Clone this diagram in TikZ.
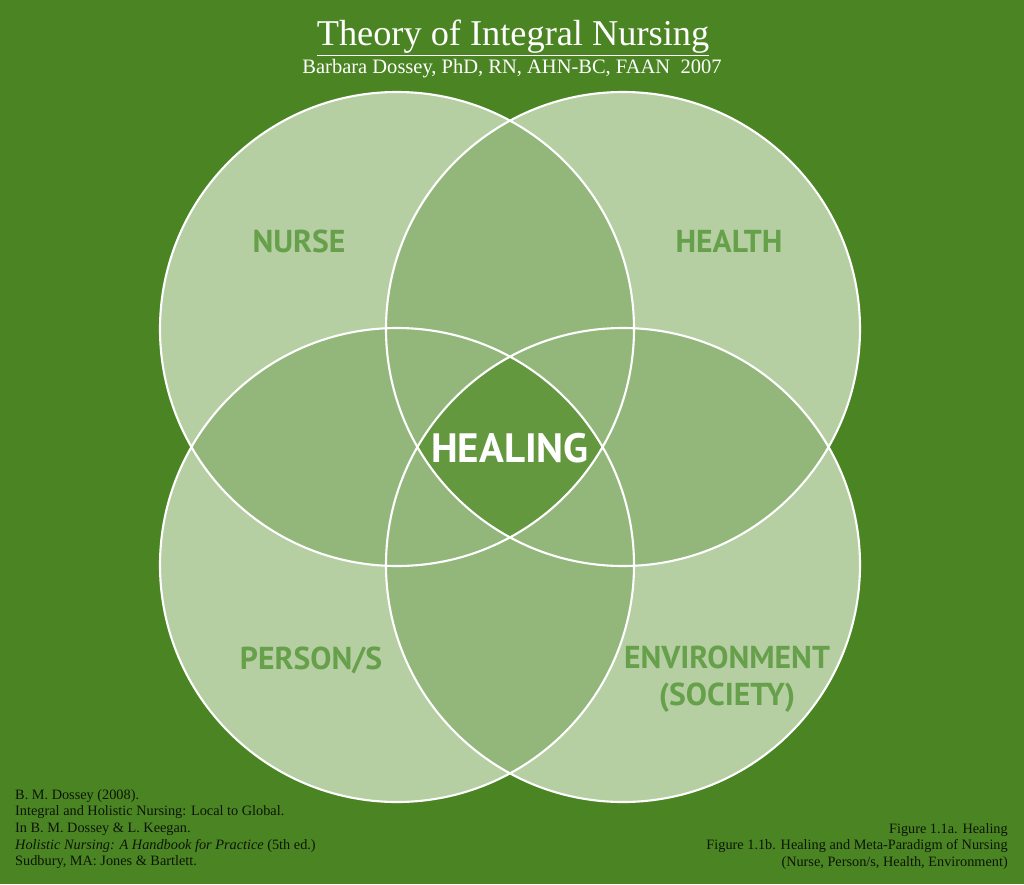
\documentclass[tikz,border=0pt]{standalone}
\usepackage{fontspec}
\setmainfont{Liberation Serif}
\newfontfamily\labelfont{PT Sans}
\usepackage{tikz}
\usepackage{xcolor}

\definecolor{bggreen}{HTML}{4B8523}
\definecolor{lightgreen}{HTML}{B5CEA2}
\definecolor{midgreen}{HTML}{93B77B}
\definecolor{darkgreen}{HTML}{64983F}
\definecolor{labelgreen}{HTML}{67A04A}
\definecolor{notedark}{RGB}{12,20,6}

\tikzset{
  setlabel/.style={text=labelgreen, font=\labelfont\bfseries\fontsize{27}{31.5}\selectfont, align=center},
  notebox/.style={text=notedark, font=\fontsize{12.2}{14.2}\selectfont, inner sep=0pt},
}

\begin{document}
\begin{tikzpicture}[x=0.03cm, y=-0.03cm]
                \fill[bggreen] (0,0) rectangle (1024,884);
                % circle centres
                \coordinate (nurse) at (397,329);
                \coordinate (health) at (623,329);
                \coordinate (person) at (397,565);
                \coordinate (environment) at (623,565);
                \fill[lightgreen] (nurse) circle (237);
                \fill[lightgreen] (health) circle (237);
                \fill[lightgreen] (person) circle (237);
                \fill[lightgreen] (environment) circle (237);
                % overlaps of two or three
                \begin{scope}
                    \clip (nurse) circle (237);
                    \fill[midgreen] (health) circle (237);
                    \fill[midgreen] (person) circle (237);
                    \fill[midgreen] (environment) circle (237);
                \end{scope}
                \begin{scope}
                    \clip (health) circle (237);
                    \fill[midgreen] (person) circle (237);
                    \fill[midgreen] (environment) circle (237);
                \end{scope}
                \begin{scope}
                    \clip (person) circle (237);
                    \fill[midgreen] (environment) circle (237);
                \end{scope}
                % overlap of all four
                \begin{scope}
                    \clip (nurse) circle (237);
                    \clip (health) circle (237);
                    \clip (person) circle (237);
                    \fill[darkgreen] (environment) circle (237);
                \end{scope}
                \draw[white, line width=1.8pt] (nurse) circle (237) (health) circle (237) (person) circle (237) (environment) circle (237);
                % labels
                \node[setlabel] (nurselabel) at (299,241) {NURSE};
                \node[setlabel] (healthlabel) at (729,241) {HEALTH};
                \node[setlabel] (personlabel) at (311,660) {PERSON/S};
                \node[setlabel] (envlabel) at (727,679) {ENVIRONMENT\\(SOCIETY)};
                \node[text=white, font=\labelfont\bfseries\fontsize{35}{40}\selectfont] (healing) at (510,448) {HEALING};
                % title
                \node[text=white, font=\fontsize{31}{35}\selectfont] (title) at (513,38) {\underline{Theory of Integral Nursing}};
                \node[text=white, font=\fontsize{17.5}{20}\selectfont] (author) at (512,69) {Barbara Dossey, PhD, RN, AHN-BC, FAAN\ \ 2007};
                % references
                \node[notebox, anchor=north west, align=left] (source) at (15,789) {B. M. Dossey (2008).\\Integral and Holistic Nursing: Local to Global.\\In B. M. Dossey \& L. Keegan.\\\textit{Holistic Nursing: A Handbook for Practice} (5th ed.)\\Sudbury, MA: Jones \& Bartlett.};
                \node[notebox, anchor=north east, align=right] (caption) at (1008,823) {Figure 1.1a. Healing\\Figure 1.1b. Healing and Meta-Paradigm of Nursing\\(Nurse, Person/s, Health, Environment)};
\end{tikzpicture}
\end{document}
